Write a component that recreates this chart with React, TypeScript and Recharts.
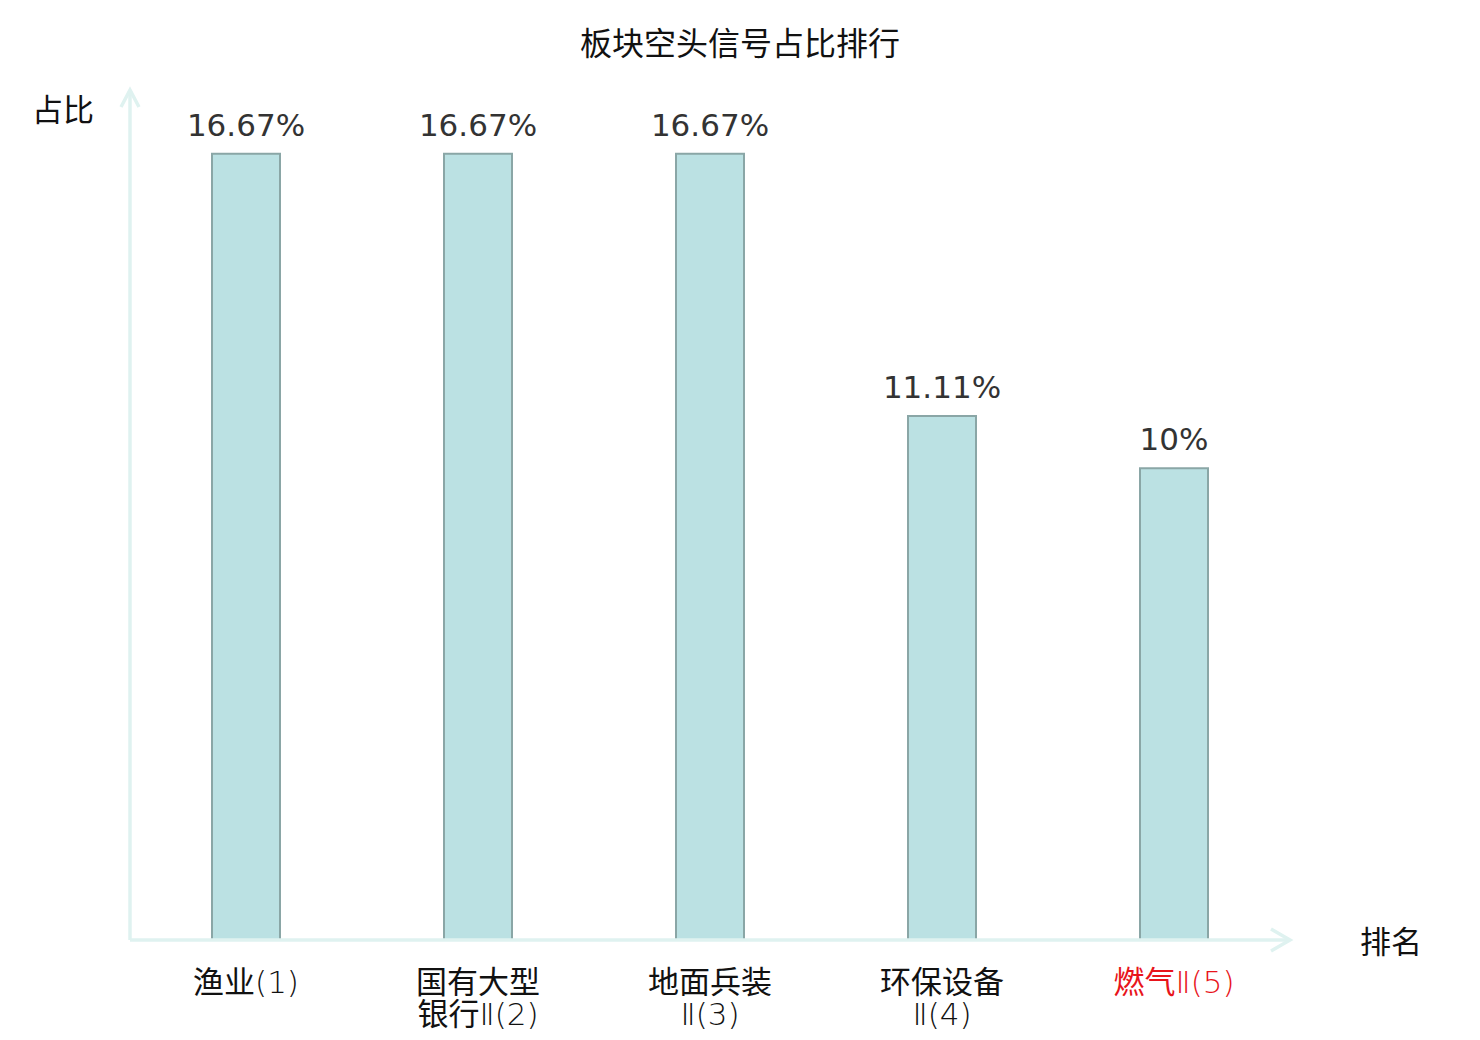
import React from 'react';
import { BarChart, Bar, XAxis, YAxis, LabelList } from 'recharts';

const categories = ['渔业(1)', '国有大型银行Ⅱ(2)', '地面兵装Ⅱ(3)', '环保设备Ⅱ(4)', '燃气Ⅱ(5)'];
const shares = [16.67, 16.67, 16.67, 11.11, 10];
const valueLabels = ['16.67%', '16.67%', '16.67%', '11.11%', '10%'];
const highlighted = [false, false, false, false, true];
const yDomain: [number, number] = [0, 18];

const data = categories.map((name, i) => ({
  name,
  value: shares[i],
  label: valueLabels[i],
}));

const CJK = '"Noto Sans CJK SC", "Noto Sans", sans-serif';
const LATIN_LIGHT = '"DejaVu Sans ExtraLight", "DejaVu Sans", sans-serif';
const AXIS_COLOR = '#dff2f0';

function splitLabel(s: string): string[] {
  const chars = Array.from(s);
  const cjkCount = chars.findIndex((c) => !/[\u4e00-\u9fff]/.test(c));
  if (cjkCount >= 4) return [chars.slice(0, 4).join(''), chars.slice(4).join('')];
  return [s];
}

function runs(s: string): { t: string; cjk: boolean }[] {
  const out: { t: string; cjk: boolean }[] = [];
  for (const ch of s) {
    const cjk = /[\u4e00-\u9fff]/.test(ch);
    const last = out[out.length - 1];
    if (last && last.cjk === cjk) last.t += ch;
    else out.push({ t: ch, cjk });
  }
  return out;
}

const XTick = (props: any) => {
  const { x, y, payload, index } = props;
  const lines = splitLabel(payload.value);
  const red = highlighted[index];
  return (
    <g>
      {lines.map((l, i) => (
        <text
          key={i}
          x={x}
          y={y + 45 + i * 32}
          textAnchor="middle"
          fontSize={31}
          fill={red ? '#e8141b' : '#111'}
        >
          {runs(l).map((r, j) => (
            <tspan
              key={j}
              fontFamily={r.cjk ? CJK : LATIN_LIGHT}
              fontWeight={r.cjk ? 400 : 200}
            >
              {r.t}
            </tspan>
          ))}
        </text>
      ))}
    </g>
  );
};

const XAxisLabel = (props: any) => {
  const vb = props.viewBox || {};
  const ex = vb.x + vb.width;
  const ey = vb.y;
  return (
    <g>
      <polyline
        points={`${ex - 19},${ey - 11} ${ex},${ey} ${ex - 19},${ey + 11}`}
        fill="none"
        stroke={AXIS_COLOR}
        strokeWidth={3.5}
      />
      <text x={ex + 101} y={ey + 13} textAnchor="middle" fontFamily={CJK} fontSize={31} fill="#111">
        排名
      </text>
    </g>
  );
};

const YAxisLabel = (props: any) => {
  const vb = props.viewBox || {};
  const ex = vb.x + (vb.width || 0);
  const ey = vb.y - 1;
  return (
    <g>
      <polyline
        points={`${ex - 9},${ey + 17} ${ex},${ey} ${ex + 9},${ey + 17}`}
        fill="none"
        stroke={AXIS_COLOR}
        strokeWidth={3.5}
      />
      <text x={ex - 67} y={ey + 31} textAnchor="middle" fontFamily={CJK} fontSize={31} fill="#111">
        占比
      </text>
    </g>
  );
};

export default function App() {
  return (
    <div style={{ position: 'absolute', left: 0, top: 0, width: 1480, height: 1040, background: '#fff' }}>
      <div
        style={{
          position: 'absolute',
          left: 0,
          top: 21,
          width: 1480,
          textAlign: 'center',
          fontFamily: CJK,
          fontSize: 32,
          color: '#111',
          lineHeight: '40px',
        }}
      >
        板块空头信号占比排行
      </div>
      <BarChart
        width={1480}
        height={1040}
        data={data}
        margin={{ top: 91, right: 190, bottom: 0, left: 120 }}
        barSize={68}
      >
        <XAxis
          dataKey="name"
          height={100}
          axisLine={{ stroke: AXIS_COLOR, strokeWidth: 3.5 }}
          tickLine={false}
          tick={<XTick />}
          interval={0}
          label={{ content: (p: any) => <XAxisLabel {...p} /> }}
        />
        <YAxis
          width={10}
          domain={yDomain}
          axisLine={{ stroke: AXIS_COLOR, strokeWidth: 3.5 }}
          tickLine={false}
          tick={false}
          label={{ content: (p: any) => <YAxisLabel {...p} /> }}
        />
        <Bar dataKey="value" fill="#bbe1e3" stroke="#8aa6a6" strokeWidth={2} isAnimationActive={false}>
          <LabelList
            dataKey="label"
            position="top"
            offset={18}
            fill="#333"
            fontSize={31}
            fontFamily='"DejaVu Sans", sans-serif'
          />
        </Bar>
      </BarChart>
    </div>
  );
}
